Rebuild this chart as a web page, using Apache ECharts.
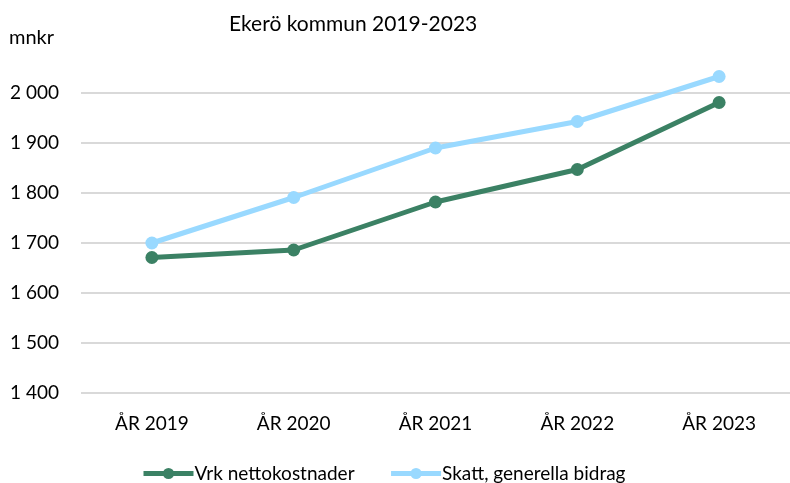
<!DOCTYPE html>
<html>
<head>
<meta charset="utf-8">
<script src="https://cdn.jsdelivr.net/npm/echarts@6/dist/echarts.min.js"></script>
<style>
  html, body { margin: 0; padding: 0; background: #fff; }
  #chart { width: 790px; height: 483px; }
</style>
</head>
<body>
<div id="chart"></div>
<script>
const years = ['ÅR 2019', 'ÅR 2020', 'ÅR 2021', 'ÅR 2022', 'ÅR 2023'];
const vrkNetto = [1671, 1686, 1782, 1847, 1981];
const skattBidrag = [1700, 1791, 1890, 1943, 2033];
const yTicks = { min: 1400, max: 2000, step: 100 };

const FONT = 'Lato';
const GREEN = '#3b8164';
const BLUE = '#99d9ff';

// svenska tusentalsavgränsare: 1 400
const fmt = v => String(v).replace(/\B(?=(\d{3})+(?!\d))/g, ' ');

const chart = echarts.init(document.getElementById('chart'));

const lineSeries = (name, data, color) => ({
  name: name,
  type: 'line',
  data: data,
  clip: false,
  symbol: 'circle',
  symbolSize: 13,
  lineStyle: { width: 5, color: color },
  itemStyle: { color: color },
  emphasis: { disabled: true },
});

chart.setOption({
  animation: false,
  textStyle: { fontFamily: FONT },
  title: [
    {
      text: 'Ekerö kommun 2019-2023',
      left: 229,
      top: 14,
      padding: 0,
      textStyle: { fontFamily: FONT, fontSize: 21, fontWeight: 'normal', color: '#000' },
    },
    {
      text: 'mnkr',
      left: 9,
      top: 28,
      padding: 0,
      textStyle: { fontFamily: FONT, fontSize: 20, fontWeight: 'normal', color: '#000' },
    },
  ],
  legend: {
    top: 464,
    left: 141,
    padding: 0,
    itemWidth: 50,
    itemHeight: 14,
    itemGap: 34,
    lineStyle: { width: 5 },
    textStyle: { fontFamily: FONT, fontSize: 19, color: '#000', padding: [0, 0, 0, -4] },
    data: ['Vrk nettokostnader', 'Skatt, generella bidrag'],
  },
  grid: { left: 81, right: 0, top: 93, bottom: 90 },
  xAxis: {
    type: 'category',
    data: years,
    axisLine: { show: false },
    axisTick: { show: false },
    axisLabel: { fontFamily: FONT, fontSize: 19, color: '#000', margin: 21 },
  },
  yAxis: {
    type: 'value',
    min: yTicks.min,
    max: yTicks.max,
    interval: yTicks.step,
    axisLine: { show: false },
    axisTick: { show: false },
    splitLine: { lineStyle: { color: '#d9d9d9', width: 2 } },
    axisLabel: { fontFamily: FONT, fontSize: 19, color: '#000', margin: 71, align: 'left', formatter: fmt },
  },
  series: [
    lineSeries('Vrk nettokostnader', vrkNetto, GREEN),
    lineSeries('Skatt, generella bidrag', skattBidrag, BLUE),
  ],
});
</script>
</body>
</html>
